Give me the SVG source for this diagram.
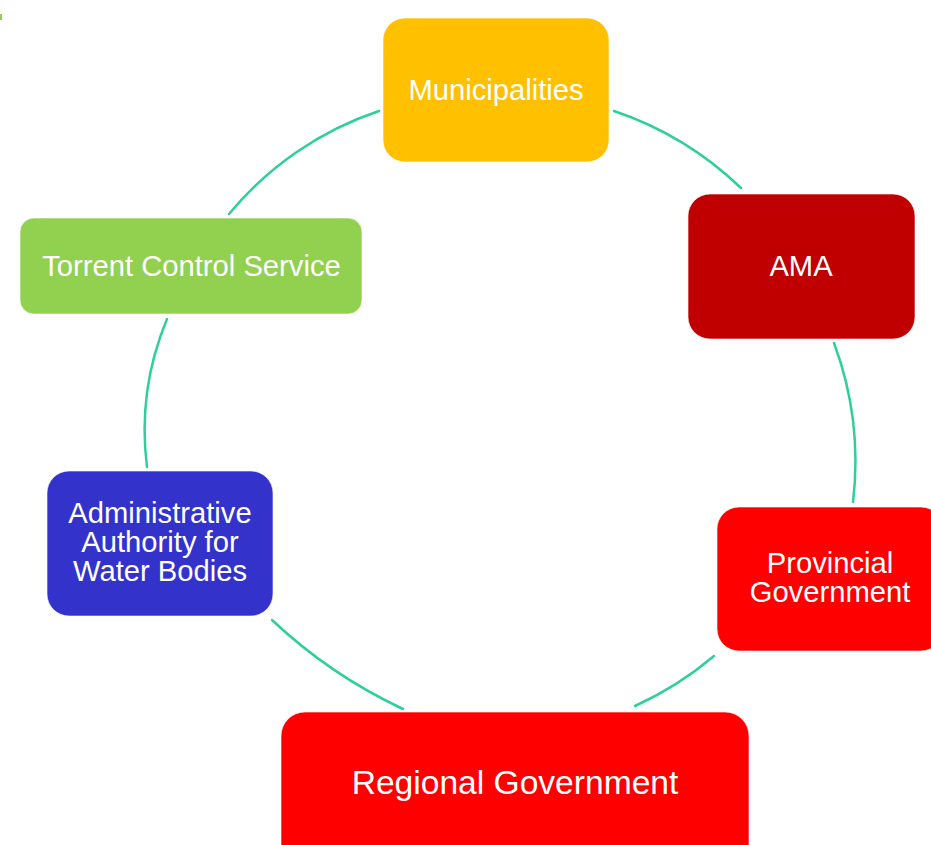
<svg xmlns="http://www.w3.org/2000/svg" width="931" height="845" viewBox="0 0 931 845">
<style>
.node{stroke:#ffffff;stroke-opacity:0.6;stroke-width:1}
.lbl{font-family:"Liberation Sans",Arial,sans-serif;fill:#ffffff;text-anchor:middle;font-size:29.2px}
.arc{fill:none;stroke:#2ecf9c;stroke-width:2.5;stroke-linecap:round}
</style>
<rect x="0" y="0" width="931" height="845" fill="#ffffff"/>
<rect x="0" y="14" width="2" height="6" fill="#92d050"/>
<g id="connectors">
<path class="arc" d="M229,214 A330,330 0 0 1 379,111"/>
<path class="arc" d="M614,111 A340,340 0 0 1 741,188"/>
<path class="arc" d="M834,343 A340,340 0 0 1 853,502"/>
<path class="arc" d="M714,656 A340,340 0 0 1 635,706"/>
<path class="arc" d="M403,709 A500,500 0 0 1 272,620"/>
<path class="arc" d="M147,467 A290,290 0 0 1 167,319"/>
</g>
<g id="municipalities">
<rect class="node" x="383" y="18" width="226" height="144" rx="22" fill="#ffc000"/>
<text class="lbl" x="496" y="100">Municipalities</text>
</g>
<g id="ama">
<rect class="node" x="688" y="194" width="227" height="145" rx="22" fill="#c00000"/>
<text class="lbl" x="801" y="276">AMA</text>
</g>
<g id="provincial">
<rect class="node" x="717" y="507" width="226" height="144" rx="22" fill="#ff0000"/>
<text class="lbl" x="830" y="573">Provincial</text>
<text class="lbl" x="830" y="602">Government</text>
</g>
<g id="regional">
<rect class="node" x="281" y="712" width="468" height="160" rx="24" fill="#ff0000"/>
<text class="lbl" x="515" y="794" style="font-size:33.6px">Regional Government</text>
</g>
<g id="admin">
<rect class="node" x="47" y="471" width="226" height="145" rx="22" fill="#3333cc"/>
<text class="lbl" x="160" y="523">Administrative</text>
<text class="lbl" x="160" y="552">Authority for</text>
<text class="lbl" x="160" y="581">Water Bodies</text>
</g>
<g id="torrent">
<rect class="node" x="20" y="218" width="342" height="96" rx="14" fill="#92d050"/>
<text class="lbl" x="191.5" y="276">Torrent Control Service</text>
</g>
</svg>
